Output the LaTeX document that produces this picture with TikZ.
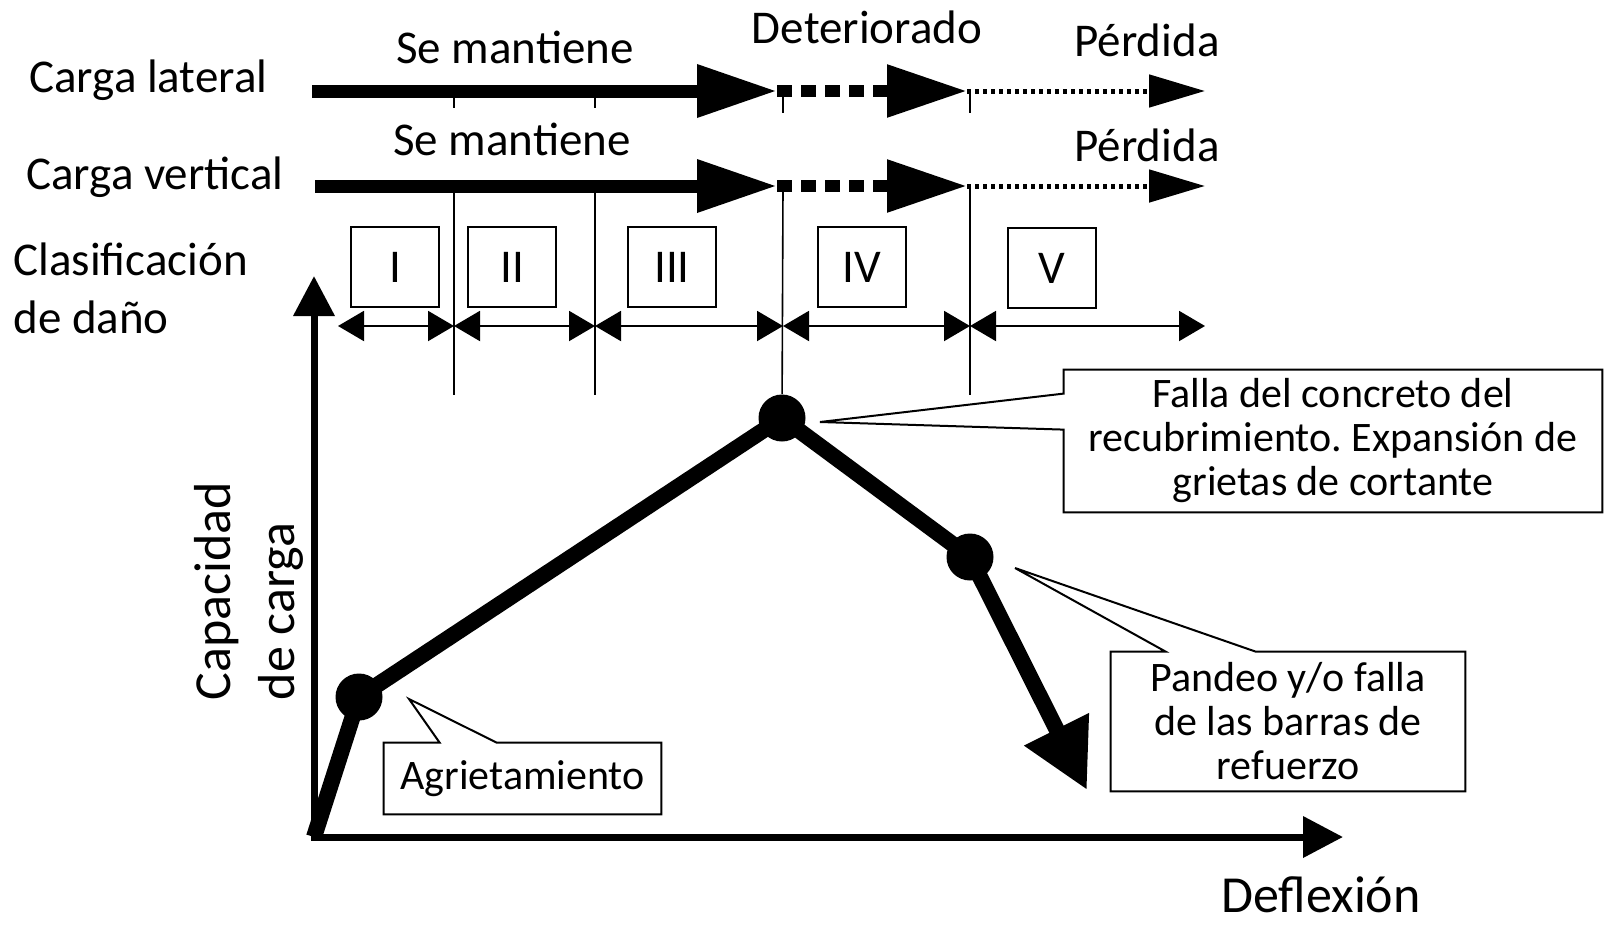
\documentclass[tikz,border=0pt]{standalone}
\usepackage{fontspec}
\setmainfont{Carlito}
\usetikzlibrary{arrows.meta,calc}
\frenchspacing
\newcommand{\lblfont}{\fontsize{23.5}{28.5}\selectfont}
\newcommand{\callfont}{\fontsize{21}{22}\selectfont}
\newcommand{\axisfont}{\fontsize{26}{32}\selectfont}

\begin{document}
\begin{tikzpicture}[x=0.5pt,y=-0.5pt,
    load/.style={line width=6.5pt,-{Triangle[length=40pt,width=25pt]}},
    worn/.style={line width=6pt,dash pattern=on 7.5pt off 4.5pt,-{Triangle[length=40pt,width=25pt]}},
    lost/.style={line width=2.5pt,dash pattern=on 2pt off 2pt,-{Triangle[length=28pt,width=16pt]}},
    guide/.style={line width=0.8pt},
    zone/.style={line width=1pt,{Triangle[length=13pt,width=15pt]}-{Triangle[length=13pt,width=15pt]}},
    zonebox/.style={draw,line width=1pt,minimum width=44pt,minimum height=40pt,font=\lblfont},
    axisline/.style={line width=3.5pt,line join=miter,{Triangle[length=20pt,width=20pt]}-{Triangle[length=20pt,width=20pt]}},
    loadcurve/.style={line width=8pt,line join=round,-{Triangle[length=34pt,width=34pt]}},
    knee/.style={circle,fill,inner sep=0pt,minimum size=23.5pt},
    tag/.style={font=\lblfont,inner sep=0pt},
    note/.style={font=\callfont,align=center,inner sep=0pt},
    noteline/.style={line width=1pt}]
  \useasboundingbox (0,0) rectangle (1604,926);

  % row labels
  \node[tag,anchor=base west] (lateral) at (29,92) {Carga lateral};
  \node[tag,anchor=base west] (vertical) at (26,189) {Carga vertical};
  \node[tag,anchor=base west] (clasif) at (13,275) {Clasificación};
  \node[tag,anchor=base west] (dano) at (13,333) {de daño};

  % stage limits
  \foreach \x in {454,595} \draw[guide] (\x,91) -- (\x,108);
  \foreach \x in {783,970} \draw[guide] (\x,91) -- (\x,113);
  \foreach \x in {454,595,970} \draw[guide] (\x,186) -- (\x,395);

  % load state
  \foreach \row/\y/\x in {lat/91/312,ver/186/315} {
    \coordinate (\row0) at (\x,\y);
    \coordinate (\row1) at (777,\y);
    \coordinate (\row2) at (967,\y);
    \coordinate (\row3) at (1205,\y);
    \draw[load] (\row0) -- (\row1);
    \draw[worn] (\row1) -- (\row2);
    \draw[lost] (\row2) -- (\row3);
  }
  \node[tag,anchor=base] (keep1) at (515,63) {Se mantiene};
  \node[tag,anchor=base] (keep2) at (512,155) {Se mantiene};
  \node[tag,anchor=base] (worse) at (867,43) {Deteriorado};
  \node[tag,anchor=base] (loss1) at (1147,56) {Pérdida};
  \node[tag,anchor=base] (loss2) at (1147,161) {Pérdida};

  % damage classes
  \node[zonebox] (z1) at (395,267) {I};
  \node[zonebox] (z2) at (512,267) {II};
  \node[zonebox] (z3) at (672,267) {III};
  \node[zonebox] (z4) at (862,267) {IV};
  \node[zonebox] (z5) at (1052,268) {V};
  \foreach \i/\x in {0/338,1/454,2/595,3/783,4/970,5/1205}
    \coordinate (d\i) at (\x,326);
  \foreach \i/\j in {0/1,1/2,2/3,3/4,4/5}
    \draw[zone] (d\i) -- (d\j);

  % axes
  \coordinate (o) at (314,837);
  \coordinate (ytip) at (314,276);
  \coordinate (xtip) at (1343,837);
  \draw[axisline] (ytip) -- (o) -- (xtip);
  \node[font=\axisfont,inner sep=0pt,anchor=base] (defl) at (1321,912) {Deflexión};
  \node[font=\axisfont,inner sep=0pt,rotate=90,align=left] (cap) at (249,591) {Capacidad\\de carga};

  % capacity curve
  \node[knee] (crack) at (359,697) {};
  \node[knee] (peak) at (782,418) {};
  \node[knee] (buckle) at (970,557) {};
  \coordinate (fin) at (1087,790);
  \draw[guide] (783,186) -- (peak);
  \draw[loadcurve] (o) -- (crack.center) -- (peak.center) -- (buckle.center) -- (fin);

  % callouts
  \node[note,minimum width=138.5pt,minimum height=35.5pt] (agriet) at (522.5,778.5) {Agrietamiento};
  \coordinate (agrtip) at (409,699);
  \draw[noteline] (agriet.north west) -- ($(agriet.north west)+(56,0)$) -- (agrtip)
    -- ($(agriet.north west)+(113,0)$) -- (agriet.north east) -- (agriet.south east)
    -- (agriet.south west) -- cycle;

  \node[note,minimum width=269pt,minimum height=71pt] (falla) at (1333,441)
    {Falla del concreto del\\recubrimiento. Expansión de\\grietas de cortante};
  \coordinate (fallatip) at (820,422);
  \draw[noteline] ($(falla.north west)+(0,24)$) -- (falla.north west) -- (falla.north east)
    -- (falla.south east) -- (falla.south west) -- ($(falla.north west)+(0,60)$)
    -- (fallatip) -- cycle;

  \node[note,minimum width=177pt,minimum height=69.5pt] (pandeo) at (1288,721.5)
    {Pandeo y/o falla\\de las barras de\\refuerzo};
  \coordinate (pantip) at (1015,568);
  \draw[noteline] (pandeo.north west) -- ($(pandeo.north west)+(55,0)$) -- (pantip)
    -- ($(pandeo.north west)+(145,0)$) -- (pandeo.north east) -- (pandeo.south east)
    -- (pandeo.south west) -- cycle;
\end{tikzpicture}
\end{document}
